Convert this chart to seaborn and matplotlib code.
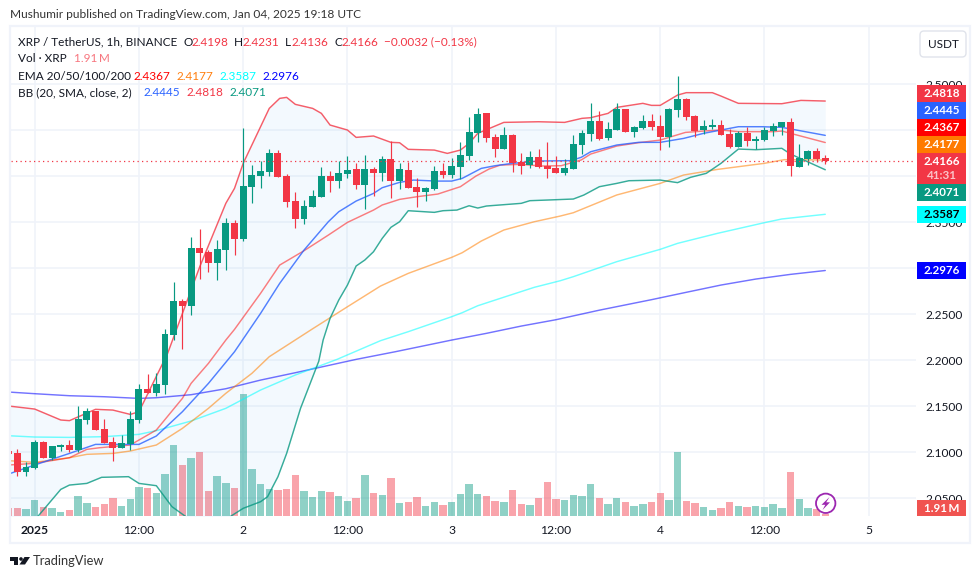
import matplotlib
matplotlib.use("Agg")
import matplotlib.pyplot as plt
from matplotlib.patches import Rectangle, Circle, Polygon, FancyBboxPatch
import numpy as np
import pandas as pd
import seaborn as sns

W, H = 980, 579
FONT = "Lato"
UP = "#089981"
DOWN = "#f23645"
GRID = "#f0f3fa"
INK = "#131722"

# one candle per hour, 0 is Jan 1 00:00
hours = list(range(-3, 92))
opens = [2.1014, 2.0992, 2.0786, 2.0829, 2.1112, 2.0938, 2.1057, 2.1079, 2.1025, 2.1351, 2.1449, 2.1253, 2.1112, 2.1046, 2.1090, 2.1351,
         2.1688, 2.1644, 2.1731, 2.2275, 2.2644, 2.2590, 2.3220, 2.3177, 2.3057, 2.3199, 2.3492, 2.3318, 2.3883, 2.4003, 2.4047, 2.4253,
         2.4003, 2.3731, 2.3535, 2.3667, 2.3775, 2.4003, 2.3948, 2.4025, 2.4079, 2.3905, 2.4079, 2.4035, 2.4188, 2.3948, 2.4068, 2.3883,
         2.3829, 2.3862, 2.4057, 2.4014, 2.4101, 2.4220, 2.4470, 2.4688, 2.4427, 2.4296, 2.4448, 2.4155, 2.4122, 2.4209, 2.4112, 2.4090,
         2.4035, 2.4079, 2.4340, 2.4459, 2.4601, 2.4416, 2.4503, 2.4731, 2.4481, 2.4525, 2.4601, 2.4546, 2.4427, 2.4720, 2.4840, 2.4655,
         2.4503, 2.4535, 2.4557, 2.4459, 2.4318, 2.4470, 2.4383, 2.4394, 2.4492, 2.4535, 2.4590, 2.4101, 2.4188, 2.4275, 2.4198]
highs = [2.1030, 2.1036, 2.0891, 2.1133, 2.1122, 2.1068, 2.1090, 2.1133, 2.1503, 2.1481, 2.1449, 2.1362, 2.1166, 2.1188, 2.1449, 2.1742,
         2.1851, 2.1862, 2.2340, 2.2851, 2.2666, 2.3340, 2.3427, 2.3199, 2.3307, 2.3546, 2.3525, 2.4525, 2.4122, 2.4166, 2.4296, 2.4285,
         2.4025, 2.3829, 2.3742, 2.3851, 2.4101, 2.4057, 2.4166, 2.4220, 2.4144, 2.4231, 2.4101, 2.4220, 2.4383, 2.4144, 2.4155, 2.3981,
         2.3883, 2.4112, 2.4144, 2.4198, 2.4372, 2.4644, 2.4742, 2.4688, 2.4459, 2.4535, 2.4459, 2.4253, 2.4275, 2.4296, 2.4372, 2.4220,
         2.4188, 2.4448, 2.4503, 2.4796, 2.4709, 2.4590, 2.4796, 2.4731, 2.4546, 2.4666, 2.4677, 2.4666, 2.4742, 2.5090, 2.4851, 2.4666,
         2.4612, 2.4622, 2.4612, 2.4514, 2.4492, 2.4535, 2.4438, 2.4535, 2.4579, 2.4590, 2.4633, 2.4351, 2.4286, 2.4307, 2.4231]
lows = [2.0970, 2.0742, 2.0742, 2.0818, 2.0938, 2.0916, 2.1014, 2.1003, 2.1003, 2.1307, 2.1242, 2.1101, 2.0905, 2.1046, 2.1025, 2.1318,
        2.1644, 2.1612, 2.1633, 2.2220, 2.2122, 2.2492, 2.2883, 2.2959, 2.2872, 2.2981, 2.3144, 2.3296, 2.3709, 2.3872, 2.4003, 2.3992,
        2.3666, 2.3438, 2.3481, 2.3667, 2.3775, 2.3829, 2.3872, 2.3981, 2.3862, 2.3644, 2.3785, 2.3948, 2.3764, 2.3862, 2.3872, 2.3666,
        2.3731, 2.3851, 2.3981, 2.3981, 2.3970, 2.4177, 2.4372, 2.4372, 2.4209, 2.4296, 2.4046, 2.4025, 2.4090, 2.4090, 2.3981, 2.4035,
        2.4014, 2.4079, 2.4242, 2.4383, 2.4394, 2.4394, 2.4503, 2.4481, 2.4427, 2.4514, 2.4503, 2.4285, 2.4318, 2.4644, 2.4612, 2.4427,
        2.4459, 2.4514, 2.4448, 2.4307, 2.4318, 2.4329, 2.4296, 2.4383, 2.4438, 2.4448, 2.4003, 2.4101, 2.4122, 2.4155, 2.4136]
closes = [2.0981, 2.0786, 2.0840, 2.1112, 2.0938, 2.1068, 2.1079, 2.1025, 2.1362, 2.1449, 2.1242, 2.1101, 2.1046, 2.1101, 2.1362, 2.1688,
          2.1644, 2.1742, 2.2286, 2.2644, 2.2590, 2.3220, 2.3166, 2.3057, 2.3209, 2.3492, 2.3318, 2.3894, 2.4014, 2.4057, 2.4253, 2.3992,
          2.3720, 2.3536, 2.3677, 2.3785, 2.4003, 2.3948, 2.4035, 2.4068, 2.3905, 2.4079, 2.4035, 2.4188, 2.3948, 2.4079, 2.3872, 2.3829,
          2.3872, 2.4057, 2.4014, 2.4112, 2.4231, 2.4481, 2.4677, 2.4416, 2.4296, 2.4448, 2.4144, 2.4112, 2.4209, 2.4101, 2.4079, 2.4035,
          2.4090, 2.4351, 2.4470, 2.4601, 2.4405, 2.4514, 2.4731, 2.4481, 2.4535, 2.4601, 2.4535, 2.4427, 2.4731, 2.4840, 2.4644, 2.4492,
          2.4546, 2.4557, 2.4448, 2.4318, 2.4470, 2.4383, 2.4405, 2.4503, 2.4546, 2.4590, 2.4112, 2.4198, 2.4275, 2.4188, 2.4166]
volumes = [7.6, 7.6, 6.7, 15.2, 8.6, 7.6, 3.8, 5.7, 19.0, 12.4, 8.6, 11.4, 17.1, 9.5, 16.2, 27.6,
           26.6, 21.9, 39.9, 67.5, 48.5, 55.1, 60.8, 23.8, 38.0, 31.4, 26.6, 115.9, 44.7, 30.4, 25.7, 24.7,
           25.7, 39.0, 23.8, 18.1, 23.8, 22.8, 19.0, 14.3, 17.1, 39.0, 21.9, 20.0, 36.1, 12.4, 13.3, 18.1,
           9.5, 13.3, 10.5, 13.3, 20.9, 30.4, 20.9, 19.0, 14.3, 13.3, 24.7, 11.4, 10.5, 17.1, 32.3, 16.2,
           15.2, 20.0, 19.0, 30.4, 17.1, 11.4, 17.1, 13.3, 9.5, 11.4, 13.3, 21.9, 15.2, 60.8, 14.3, 12.4,
           8.6, 5.7, 7.6, 13.3, 9.5, 8.6, 9.5, 8.6, 11.4, 7.6, 41.8, 16.2, 7.6, 6.7, 1.91]

# indicator readings, each at its own hours
ema200_h = [-3, 0, 4, 8, 12, 14, 18, 22, 26, 30, 37, 41.5, 48, 52, 56, 60, 65, 71, 75, 79, 83, 87, 91]
ema200 = [2.1655, 2.1637, 2.1615, 2.1604, 2.1586, 2.1593, 2.1626, 2.1691, 2.1785, 2.1865, 2.2010, 2.2093, 2.2220, 2.2293, 2.2372, 2.2441, 2.2545, 2.2659, 2.2739, 2.2818, 2.2883, 2.2934, 2.2976]
ema100_h = [-3, 0, 4, 8, 12, 14, 18, 22, 26, 30, 34.8, 39.8, 43, 48, 49.2, 51, 54.4, 57.5, 60.5, 62, 67, 72, 74, 78.6, 84, 86, 91]
ema100 = [2.1180, 2.1166, 2.1162, 2.1170, 2.1195, 2.1235, 2.1340, 2.1478, 2.1677, 2.1840, 2.2010, 2.2213, 2.2311, 2.2474, 2.2517, 2.2593, 2.2698, 2.2793, 2.2865, 2.2909, 2.3072, 2.3206, 2.3271, 2.3380, 2.3496, 2.3536, 2.3587]
ema50_h = [-3, 0, 4, 6, 9, 11, 14, 17, 20, 22, 25, 27, 28.5, 32, 36, 39.8, 43, 48, 49.2, 51.4, 54, 57.5, 60.5, 62, 67, 72, 74.7, 78.6, 84, 86.3, 91]
ema50 = [2.0909, 2.0891, 2.0941, 2.0978, 2.0988, 2.1014, 2.1079, 2.1260, 2.1478, 2.1641, 2.1858, 2.2039, 2.2130, 2.2343, 2.2582, 2.2807, 2.2945, 2.3119, 2.3169, 2.3296, 2.3416, 2.3506, 2.3568, 2.3604, 2.3797, 2.3923, 2.4014, 2.4075, 2.4141, 2.4181, 2.4177]
ema20_h = [-3, 0, 4, 6, 7.5, 11, 14, 17, 18, 20, 22, 23, 26, 28.2, 31, 33.8, 36, 39, 40, 42, 44, 46.4, 49, 50.8, 52.3, 53.6, 56, 58.3, 60.6, 62.9, 64, 67, 69.5, 72, 74.9, 77, 79, 81, 85, 86, 87, 91]
ema20 = [2.0862, 2.0880, 2.0941, 2.1032, 2.1050, 2.1079, 2.1242, 2.1586, 2.1749, 2.1967, 2.2220, 2.2336, 2.2728, 2.3035, 2.3191, 2.3361, 2.3499, 2.3633, 2.3688, 2.3749, 2.3778, 2.3807, 2.3887, 2.4003, 2.4079, 2.4122, 2.4130, 2.4112, 2.4115, 2.4177, 2.4242, 2.4329, 2.4365, 2.4394, 2.4477, 2.4492, 2.4503, 2.4485, 2.4485, 2.4492, 2.4467, 2.4367]
basis_h = [-3, 0, 4, 7, 10, 12, 14, 17, 20, 23, 26, 28.2, 31, 33.8, 35, 37, 39, 40, 42, 43.6, 46.3, 48, 49.2, 51.4, 53, 55, 58, 61.7, 62.9, 64, 67, 69.5, 72, 74.7, 77, 81, 83.7, 86, 91]
basis = [2.0764, 2.0862, 2.0988, 2.1086, 2.1086, 2.1086, 2.1177, 2.1441, 2.1749, 2.2093, 2.2510, 2.2836, 2.3198, 2.3506, 2.3615, 2.3731, 2.3814, 2.3876, 2.3934, 2.3959, 2.3948, 2.3948, 2.3977, 2.4086, 2.4115, 2.4141, 2.4166, 2.4170, 2.4206, 2.4267, 2.4340, 2.4369, 2.4369, 2.4412, 2.4467, 2.4539, 2.4539, 2.4532, 2.4445]
upper_h = [-3, 0, 3, 4, 7, 9, 11, 12, 15.3, 19, 22, 23, 24, 27, 28.2, 29, 30, 32, 33, 34, 36, 37, 39, 41, 42, 43, 46, 47.5, 49, 50, 51, 54, 58, 61, 63, 64, 66, 67, 70, 71, 72, 74, 75, 78, 79, 81, 86, 88.2, 91]
upper = [2.1503, 2.1470, 2.1351, 2.1344, 2.1467, 2.1459, 2.1412, 2.1441, 2.2075, 2.3017, 2.3706, 2.3869, 2.4141, 2.4738, 2.4847, 2.4858, 2.4782, 2.4738, 2.4684, 2.4557, 2.4503, 2.4423, 2.4438, 2.4369, 2.4365, 2.4293, 2.4285, 2.4249, 2.4285, 2.4358, 2.4467, 2.4586, 2.4593, 2.4586, 2.4630, 2.4637, 2.4684, 2.4749, 2.4793, 2.4771, 2.4771, 2.4883, 2.4909, 2.4909, 2.4872, 2.4793, 2.4789, 2.4825, 2.4818]
lower_h = [-3, -1, 0.4, 3, 4, 6, 7.7, 10.8, 12, 14, 15.8, 17.3, 20, 22.6, 24, 26, 26.8, 28, 29, 30.6, 32.7, 33.2, 34, 35, 36, 37, 38, 39, 40, 41, 42, 43, 46, 47, 48.6, 50, 51, 52, 56, 57, 59, 62, 63.2, 65, 67, 68.4, 72, 74, 75.5, 77.3, 79, 81, 83, 86, 87, 91]
lower = [2.0050, 2.0180, 2.0307, 2.0597, 2.0644, 2.0662, 2.0728, 2.0735, 2.0662, 2.0637, 2.0409, 2.0307, 2.0150, 2.0307, 2.0391, 2.0463, 2.0517, 2.0735, 2.0988, 2.1478, 2.1990, 2.2220, 2.2456, 2.2655, 2.2818, 2.3025, 2.3090, 2.3180, 2.3325, 2.3445, 2.3506, 2.3626, 2.3608, 2.3626, 2.3633, 2.3680, 2.3655, 2.3677, 2.3706, 2.3735, 2.3742, 2.3753, 2.3796, 2.3887, 2.3923, 2.3952, 2.3959, 2.3931, 2.3989, 2.4032, 2.4141, 2.4296, 2.4289, 2.4304, 2.4242, 2.4071]

price_ticks = [2.05, 2.10, 2.15, 2.20, 2.25, 2.30, 2.35, 2.40, 2.45, 2.50]
# 2.3000, 2.4000 and 2.4500 sit fully behind the price tags
price_labels = ["2.0500", "2.1000", "2.1500", "2.2000", "2.2500", "", "2.3500", "", "", "2.5000"]
time_ticks = [0, 12, 24, 36, 48, 60, 72, 84, 96]
time_labels = ["2025", "12:00", "2", "12:00", "3", "12:00", "4", "12:00", "5"]

last_close = 2.4166
last_labels = ["2.4818", "2.4445", "2.4367", "2.4177", "2.4071", "2.3587", "2.2976"]
label_colors = [DOWN, "#2962ff", "#ff0000", "#ff7a00", UP, "#00ffff", "#0000ff"]
label_text = ["white", "white", "white", "white", "white", "black", "white"]
label_top = [85, 102, 119, 136, 184, 206, 262]

sns.set_theme(style="white")
plt.rcParams["font.family"] = [FONT, "DejaVu Sans"]

fig = plt.figure(figsize=(W / 100, H / 100), dpi=100)
fig.patch.set_facecolor("white")

# pane runs from x=11 to 916 and y=27 to 516 in pixels
rect = [11 / W, 1 - 516 / H, (916 - 11) / W, (516 - 27) / H]
ax = fig.add_axes(rect, zorder=1)
ax_vol = fig.add_axes(rect, zorder=2, sharex=ax)
ax_top = fig.add_axes(rect, zorder=3, sharex=ax, sharey=ax)
ax_top.patch.set_alpha(0)
ax_vol.patch.set_alpha(0)

x_left = (11 - 34.7) / 8.6875
x_right = (916 - 34.7) / 8.6875
y_low = 2.5 - (516 - 84.3) / 920
y_high = 2.5 + (84.3 - 27) / 920

# grid and price scale
ax.set_xticks(time_ticks)
ax.set_xticklabels(time_labels, fontsize=8.7, color=INK)
ax.get_xticklabels()[0].set_fontweight("bold")
ax.set_yticks(price_ticks)
ax.set_yticklabels(price_labels, fontsize=8.6, color=INK)
ax.yaxis.tick_right()
ax.tick_params(axis="both", length=0)
ax.tick_params(axis="x", pad=6.5)
ax.tick_params(axis="y", pad=6.5)
ax.grid(True, color=GRID, linewidth=1.2)
for s in ax.spines.values():
    s.set_visible(False)

# volume
df_vol = pd.DataFrame({"hour": hours, "vol": volumes})
df_vol["dir"] = ["up" if c >= o else "down" for o, c in zip(opens, closes)]
sns.barplot(data=df_vol, x="hour", y="vol", hue="dir", palette={"up": UP, "down": DOWN}, native_scale=True,
            dodge=False, width=0.85, alpha=0.45, saturation=1, linewidth=0, errorbar=None, legend=False, ax=ax_vol)
ax_vol.set_ylim(0, 489 * 0.95)
ax_vol.axis("off")

# bollinger fill and lines
grid_h = np.arange(-3, 91.01, 0.1)
ax_top.fill_between(grid_h, np.interp(grid_h, lower_h, lower), np.interp(grid_h, upper_h, upper), color="#2196f3", alpha=0.05, linewidth=0)
lines = [(ema200_h, ema200, "#0000ff", 0.55), (ema100_h, ema100, "#00ffff", 0.55), (ema50_h, ema50, "#ff7f00", 0.55), (ema20_h, ema20, "#ff0000", 0.5),
         (basis_h, basis, "#2962ff", 0.8), (upper_h, upper, DOWN, 0.8), (lower_h, lower, UP, 0.8)]
for xs, ys, c, a in lines:
    sns.lineplot(x=xs, y=ys, color=c, linewidth=1.05, alpha=a, estimator=None, errorbar=None, ax=ax_top)

# candles
colors = [UP if c >= o else DOWN for o, c in zip(opens, closes)]
ax_top.vlines(hours, lows, highs, colors=colors, linewidth=0.85, zorder=4)
ax_top.bar(hours, np.array(closes) - np.array(opens), bottom=opens, width=0.8, color=colors, linewidth=0, zorder=5)
ax_top.axhline(last_close, color=DOWN, linewidth=0.9, linestyle=(0, (1, 2.6)), zorder=6)
ax_top.axis("off")

ax.set_xlim(x_left, x_right)
ax.set_ylim(y_low, y_high)
ax_top.set_xlim(x_left, x_right)
ax_top.set_ylim(y_low, y_high)
ax.set_xlabel("")
ax.set_ylabel("")

# overlay in pixel coordinates for frame, legend, price tags
ov = fig.add_axes([0, 0, 1, 1], zorder=10)
ov.set_xlim(0, W)
ov.set_ylim(H, 0)
ov.axis("off")
ov.patch.set_alpha(0)


def txt(x, y, s, color=INK, size=8.5, ha="left", **kw):
    ov.text(x, y, s, color=color, fontsize=size, ha=ha, va="center", **kw)


ov.add_patch(Rectangle((10, 26), 960, 517, fill=False, edgecolor=GRID, linewidth=1.6))
txt(10, 15, "Mushumir published on TradingView.com, Jan 04, 2025 19:18 UTC", color="#333333", size=8.6)

txt(18, 42, "XRP / TetherUS, 1h, BINANCE")
for x, s in [(183, "O"), (234, "H"), (285, "L"), (334, "C")]:
    txt(x, 42, s)
for x, s in [(191, "2.4198"), (242, "2.4231"), (291, "2.4136"), (341, "2.4166"), (384, "\u22120.0032 (\u22120.13%)")]:
    txt(x, 42, s, color=DOWN)
txt(18, 59, "Vol \u00b7 XRP")
txt(74, 59, "1.91\u2009M", color="#f7767f")
txt(18, 76, "EMA 20/50/100/200")
for x, s, c in zip([133, 176, 219, 262], last_labels[2:4] + last_labels[5:], ["#ff0000", "#ff7f0e", "#00ffff", "#0000ff"]):
    txt(x, 76, s, color=c)
txt(18, 93, "BB (20, SMA, close, 2)")
for x, s, c in zip([143, 186, 229], ["2.4445", "2.4818", "2.4071"], ["#2962ff", DOWN, UP]):
    txt(x, 93, s, color=c)

# price tags
for s, c, tc, top in zip(last_labels, label_colors, label_text, label_top):
    ov.add_patch(Rectangle((917, top), 49, 17, color=c, linewidth=0))
    txt(941.5, top + 8.5, s, color=tc, ha="center", fontweight="bold", size=8.4)
ov.add_patch(Rectangle((917, 153), 49, 31, color=DOWN, linewidth=0))
txt(941.5, 161.5, "2.4166", color="white", ha="center", fontweight="bold", size=8.4)
txt(941.5, 175.5, "41:31", color="#fbc4c9", ha="center", fontweight="bold", size=8.4)
ov.add_patch(Rectangle((917, 500), 49, 16, color="#f05350", linewidth=0))
txt(941.5, 508, "1.91\u2009M", color="white", ha="center", fontweight="bold", size=8.4)

ov.add_patch(FancyBboxPatch((922, 33), 42, 22, boxstyle="round,pad=2,rounding_size=4", facecolor="white", edgecolor="#e0e3eb", linewidth=1.0))
txt(943, 44, "USDT", ha="center")

# lightning badge
ov.add_patch(Circle((825.7, 503.3), 9.7, facecolor="white", edgecolor="#9c27b0", linewidth=1.3))
ov.add_patch(Polygon([(829.5, 497), (821.5, 504.8), (825.3, 504.8), (822.5, 510), (830, 502.3), (826.2, 502.3)], color="#9c27b0", linewidth=0))

# logo and wordmark
ov.add_patch(Polygon([(10, 557), (18, 557), (18, 564.5), (14, 564.5), (14, 560.5), (10, 560.5)], color="#131722", linewidth=0))
ov.add_patch(Circle((21, 559), 1.8, color="#131722", linewidth=0))
ov.add_patch(Polygon([(24.5, 557), (30, 557), (25, 564.5), (19.5, 564.5)], color="#131722", linewidth=0))
txt(33, 561, "TradingView", color="#333333", size=9.3)

fig.savefig("out.png", dpi=100)
